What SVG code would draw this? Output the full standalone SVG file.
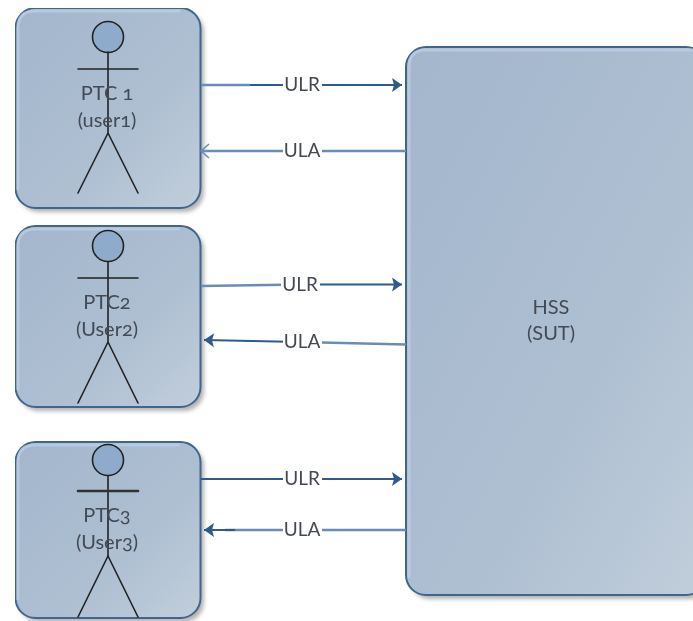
<svg xmlns="http://www.w3.org/2000/svg" width="693" height="621" viewBox="0 0 693 621">
<style>
.box{fill:url(#g);stroke:#41658f;stroke-width:2}
.hi{fill:none;stroke:#bdcfe3;stroke-width:3;opacity:.75}
.sh{fill:#000;opacity:.3;filter:url(#b)}
.fig{stroke:#222;stroke-width:1.6;fill:none;stroke-linecap:round}
.head{fill:#8fabcb;stroke:#222;stroke-width:1.6}
.t{font-family:"Lato","Noto Sans",sans-serif;font-size:20px;fill:#444a52;text-anchor:middle;font-variant-numeric:oldstyle-nums}
.c{stroke-width:2;fill:none}
.d{stroke:#2f5a8e}
.l{stroke:#6a8db5;stroke-width:2.4}
.lab{font-family:"Lato","Noto Sans",sans-serif;font-size:19px;fill:#444a52;text-anchor:middle}
.bg{fill:#fff}
</style>
<defs>
<linearGradient id="g" x1="0" y1="0" x2="1" y2="1"><stop offset="0" stop-color="#a3b6cc"/><stop offset=".6" stop-color="#aebfd2"/><stop offset="1" stop-color="#c1cedb"/></linearGradient>
<filter id="b" x="-10%" y="-10%" width="120%" height="120%"><feGaussianBlur stdDeviation="2"/></filter>
<filter id="soft" x="0" y="0" width="100%" height="100%"><feGaussianBlur stdDeviation="0.45"/></filter>
<marker id="af" markerUnits="userSpaceOnUse" markerWidth="12" markerHeight="16" refX="11" refY="8" orient="auto"><path d="M1 1 L11 8 L1 15 L3 8Z" fill="#2f5a8e"/></marker>
<marker id="ao" markerUnits="userSpaceOnUse" markerWidth="12" markerHeight="18" refX="10" refY="9" orient="auto"><path d="M2 2 L10 9 L2 16" fill="none" stroke="#6a8db5" stroke-width="1.6"/></marker>
</defs>
<rect width="693" height="621" fill="#fff"/>
<g filter="url(#soft)">
<g id="ptc1">
<rect class="sh" x="19" y="12" width="185" height="200" rx="20"/>
<rect class="box" x="15.500" y="8" width="185" height="200" rx="20"/>
<path class="hi" d="M18 190V28Q18 11 35 11H180"/>
<circle class="head" cx="108" cy="37" r="15.500"/>
<path class="fig" d="M108 52V133M78 69H138M108 133L78 193M108 133L138 193"/>
<text class="t" x="107" y="100">PTC 1</text><text class="t" x="107" y="127">(user1)</text>
</g>
<g id="ptc2">
<rect class="sh" x="19" y="230" width="185" height="181" rx="20"/>
<rect class="box" x="15.500" y="226" width="185" height="181" rx="20"/>
<path class="hi" d="M18 390V246Q18 229 35 229H180"/>
<circle class="head" cx="108" cy="246" r="15.500"/>
<path class="fig" d="M108 262V342M78 278H138M108 342L78 403M108 342L138 403"/>
<text class="t" x="107" y="309">PTC2</text><text class="t" x="107" y="336">(User2)</text>
</g>
<g id="ptc3">
<rect class="sh" x="19" y="446" width="185" height="176" rx="20"/>
<rect class="box" x="15.500" y="442" width="185" height="176" rx="20"/>
<path class="hi" d="M18 600V462Q18 445 35 445H180"/>
<circle class="head" cx="108" cy="460" r="15.500"/>
<path class="fig" d="M108 476V556"/>
<path class="fig" d="M78 491H138" style="stroke:#333;stroke-width:2.6"/>
<path class="fig" d="M108 556L78 617M108 556L138 617"/>
<text class="t" x="107" y="522">PTC3</text><text class="t" x="107" y="549">(User3)</text>
</g>
<g id="hss">
<rect class="sh" x="410" y="51" width="300" height="548" rx="20"/>
<rect class="box" x="406" y="47" width="300" height="548" rx="20"/>
<path class="hi" d="M409 578V67Q409 50 426 50H693"/>
<text class="t" x="551" y="314">HSS</text><text class="t" x="551" y="340">(SUT)</text>
</g>
<g id="connectors">
<path class="c l" d="M201 85H250"/>
<path class="c d" d="M250 85H402" marker-end="url(#af)"/>
<path class="c l" d="M406 151H201" marker-end="url(#ao)"/>
<path class="c l" d="M201 286L300 284.500"/>
<path class="c d" d="M300 284.500H402" marker-end="url(#af)"/>
<path class="c d" d="M300 342L204 340" marker-end="url(#af)"/>
<path class="c l" d="M406 344.500L300 342"/>
<path class="c d" d="M201 479H402" marker-end="url(#af)"/>
<path class="c l" d="M406 530H225"/>
<path class="c d" d="M235 530H204" marker-end="url(#af)"/>
<rect class="bg" x="283" y="76" width="39" height="18"/><text class="lab" x="302" y="91">ULR</text>
<rect class="bg" x="283" y="142" width="39" height="18"/><text class="lab" x="302" y="157">ULA</text>
<rect class="bg" x="281" y="275" width="39" height="18"/><text class="lab" x="300" y="291">ULR</text>
<rect class="bg" x="283" y="333" width="39" height="18"/><text class="lab" x="302" y="348">ULA</text>
<rect class="bg" x="283" y="470" width="39" height="18"/><text class="lab" x="302" y="485">ULR</text>
<rect class="bg" x="283" y="521" width="39" height="18"/><text class="lab" x="302" y="536">ULA</text>
</g>
</g>
</svg>
